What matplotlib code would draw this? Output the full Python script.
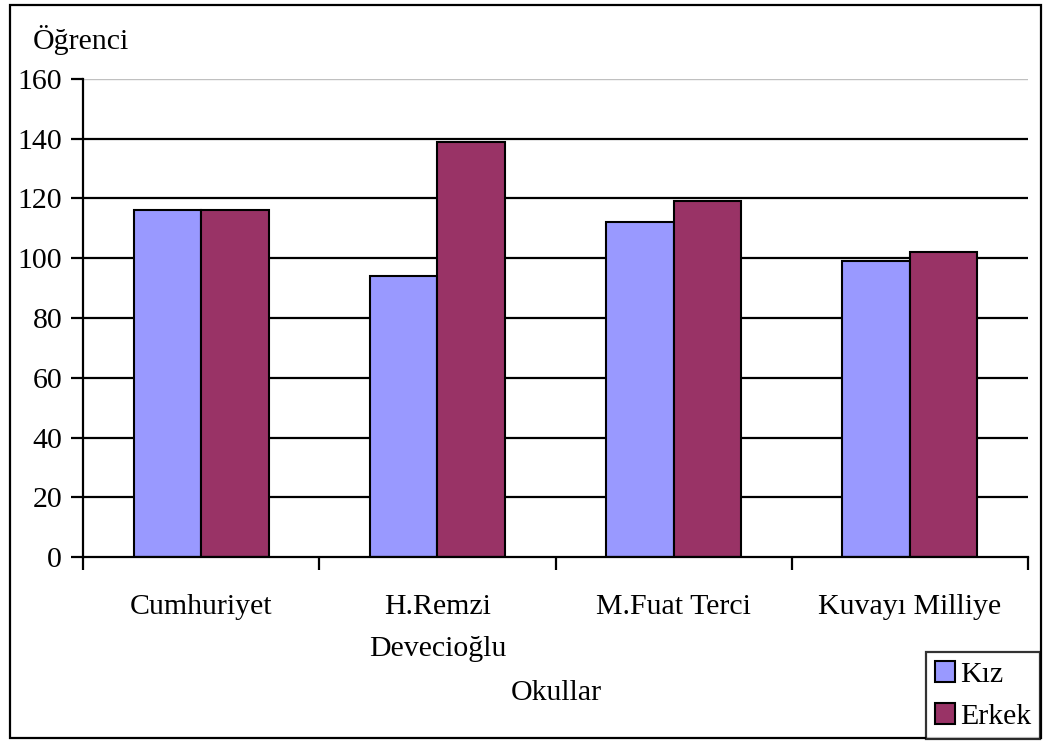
import numpy as np
import matplotlib
matplotlib.use('Agg')
import matplotlib.pyplot as plt
from matplotlib.patches import Rectangle

## data
okullar = ['Cumhuriyet', 'H.Remzi\nDevecioğlu', 'M.Fuat Terci', 'Kuvayı Milliye']
kiz = [116, 94, 112, 99]
erkek = [116, 139, 119, 102]
y_ticks = [0, 20, 40, 60, 80, 100, 120, 140, 160]

plt.rcParams['font.family'] = ['Liberation Serif', 'DejaVu Serif']
fs = 21.5

fig = plt.figure(figsize=(10.44, 7.42), dpi=100)
ax = fig.add_axes([83 / 1044, 1 - 557 / 742, (1028 - 83) / 1044, (557 - 79) / 742])

## outer chart border
fig.patches.append(Rectangle((10 / 1044, 4 / 742), 1031 / 1044, 733 / 742,
                             transform=fig.transFigure, fill=False,
                             edgecolor='black', linewidth=1.6, zorder=0))

x = np.arange(len(okullar))
w = 0.286
ax.bar(x - w / 2, kiz, w, color='#9999FF', edgecolor='black', linewidth=1.5, label='Kız', zorder=3)
ax.bar(x + w / 2, erkek, w, color='#993366', edgecolor='black', linewidth=1.5, label='Erkek', zorder=3)

ax.set_xlim(-0.5, len(okullar) - 0.5)
ax.set_ylim(0, 160)
ax.set_yticks(y_ticks)
ax.set_yticklabels([str(v) for v in y_ticks], fontsize=fs)

## gridlines (top one is light grey)
for v in y_ticks[1:-1]:
    ax.axhline(v, color='black', linewidth=1.6, zorder=1)
ax.axhline(160, color='#c0c0c0', linewidth=1.0, zorder=1)

## category ticks at boundaries, labels at centers
ax.set_xticks(np.arange(-0.5, len(okullar)), minor=False)
ax.set_xticklabels([''] * (len(okullar) + 1))
ax.set_xticks(x, minor=True)
ax.set_xticklabels(okullar, minor=True, fontsize=fs, linespacing=1.75, va='top')
ax.tick_params(axis='x', which='minor', length=0, pad=27)
ax.tick_params(axis='x', which='major', length=9, width=1.6, direction='out')
ax.tick_params(axis='y', length=9, width=1.6, direction='out', pad=6)

for s in ['top', 'right']:
    ax.spines[s].set_visible(False)
for s in ['left', 'bottom']:
    ax.spines[s].set_linewidth(1.6)
    ax.spines[s].set_zorder(4)

fig.text(33 / 1044, 1 - 40 / 742, 'Öğrenci', fontsize=fs, va='center', ha='left')
fig.text(556 / 1044, 1 - 693 / 742, 'Okullar', fontsize=fs, va='center', ha='center')

leg = fig.legend(loc='lower right', bbox_to_anchor=(1040 / 1044, 3 / 742),
                 fontsize=fs, frameon=True, fancybox=False, edgecolor='black',
                 handlelength=0.7, handleheight=0.7, handletextpad=0.15,
                 borderpad=0.3, labelspacing=0.5, borderaxespad=0)
leg.get_frame().set_linewidth(1.6)

plt.savefig('out.png', dpi=100)
